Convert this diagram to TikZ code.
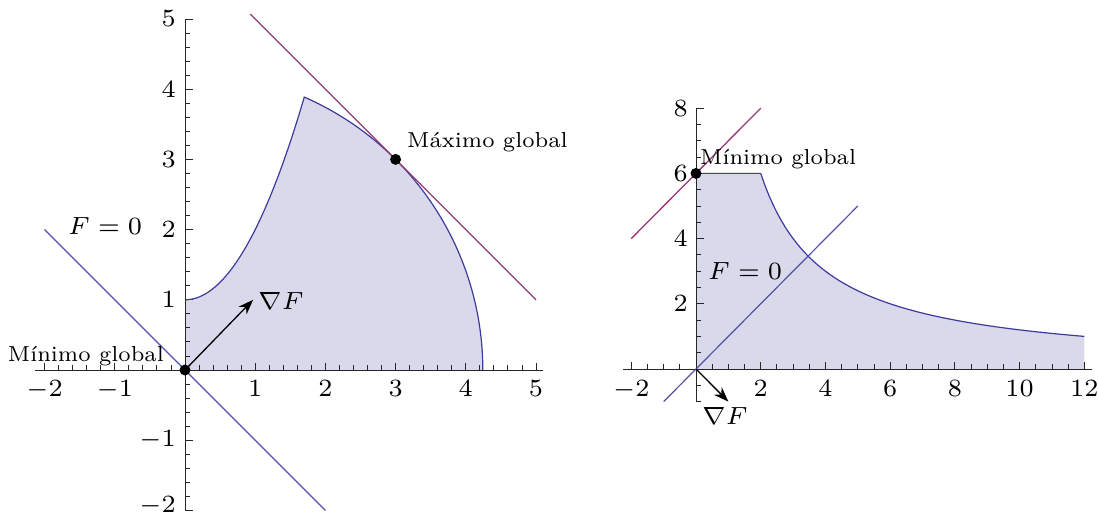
\documentclass[tikz,border=0pt]{standalone}
\usetikzlibrary{arrows.meta}
\definecolor{regfill}{HTML}{D9D9EB}
\definecolor{regline}{HTML}{3C3C9C}
\definecolor{fline}{HTML}{5050AA}
\definecolor{tline}{HTML}{993A6E}
\newcommand\ticklab[1]{\scalebox{3.55}{\fontsize{7}{8}\selectfont$#1$}}
\newcommand\txtlab[1]{\scalebox{3.1}{\fontsize{7}{8}\selectfont #1}}
\newcommand\mathlab[1]{\scalebox{3.55}{\fontsize{7}{8}\selectfont $#1$}}
\begin{document}
\begin{tikzpicture}[x=1pt,y=1pt,
  axisline/.style={line width=0.9pt,black!85},
  region/.style={fill=regfill},
  bound/.style={regline,line width=1.2pt},
  fzero/.style={fline,line width=1.2pt},
  tang/.style={tline,line width=1.3pt},
  dot/.style={circle,fill=black,inner sep=0pt,minimum size=11pt},
  grad/.style={line width=1.3pt,-{Stealth[length=15pt,width=11pt]}},
  lab/.style={inner sep=0pt}]
\useasboundingbox (0,0) rectangle (1099,518);
% ---------------- left plot ----------------
\begin{scope}[shift={(185pt,148pt)},x=70.2pt,y=70.2pt]
  \fill[region] (0,0) -- (0,1) -- plot[domain=0:1.699,samples=50] (\x,{1+\x*\x})
     -- plot[domain=66.39:0,samples=60] ({sqrt(18)*cos(\x)},{sqrt(18)*sin(\x)}) -- cycle;
  % axes
  \draw[axisline] (-2.14,0) -- (5.1,0);
  \draw[axisline] (0,-2) -- (0,5);
  \foreach \i in {-2,...,5} {\draw[axisline] (\i,0) -- ++(0,7pt);
                             \draw[axisline] (0,\i) -- ++(8pt,0);}
  \foreach \i in {-2,-1.8,...,4.9} {\draw[axisline] (\i,0) -- ++(0,4.5pt);
                                    \draw[axisline] (0,\i) -- ++(5pt,0);}
  \foreach \i in {-2,-1,1,2,3,4,5}
    \node[lab,anchor=base,yshift=-27pt] (xl\i) at (\i,0) {\ticklab{\i}};
  \foreach \i in {-1,1,2,3,4,5}
    \node[lab,anchor=east,xshift=-9pt] (yl\i) at (0,\i) {\ticklab{\i}};
  \node[lab,anchor=east,xshift=-9pt,yshift=4pt] (ylm2) at (0,-2) {\ticklab{-2}};
  % curves
  \draw[bound] plot[domain=0:1.699,samples=50] (\x,{1+\x*\x})
     -- plot[domain=66.39:0,samples=60] ({sqrt(18)*cos(\x)},{sqrt(18)*sin(\x)});
  \coordinate (ta) at (0.93,5.07);
  \coordinate (tb) at (5,1);
  \draw[tang] (ta) -- (tb);
  \coordinate (fa) at (-2,2);
  \coordinate (fb) at (2,-2);
  \draw[fzero] (fa) -- (fb);
  \node[dot] (min1) at (0,0) {};
  \node[dot] (max1) at (3,3) {};
  \coordinate (g1) at (0.97,1);
  \draw[grad] (min1.center) -- (g1);
\end{scope}
\node[lab,anchor=base east] (lmin1) at (164,156) {\txtlab{Mínimo global}};
\node[lab,anchor=base west] (lmax1) at (407,370) {\txtlab{Máximo global}};
\node[lab,anchor=base west] (lf1) at (68,283) {\mathlab{F=0}};
\node[lab,anchor=base west] (lg1) at (258,208) {\mathlab{\nabla F}};
% ---------------- right plot ----------------
\begin{scope}[shift={(696pt,149pt)},x=32.36pt,y=32.6pt]
  \fill[region] (0,0) -- (0,6) -- (2,6) -- plot[domain=2:12,samples=80] (\x,{12/\x}) -- (12,0) -- cycle;
  \draw[axisline] (-2.25,0) -- (12.25,0);
  \draw[axisline] (0,-1) -- (0,8);
  \foreach \i in {-2,0,...,12} \draw[axisline] (\i,0) -- ++(0,7pt);
  \foreach \i in {-2,-1.5,...,12} \draw[axisline] (\i,0) -- ++(0,4.5pt);
  \foreach \i in {0,2,...,8} \draw[axisline] (0,\i) -- ++(8pt,0);
  \foreach \i in {-1,-0.5,...,8} \draw[axisline] (0,\i) -- ++(5pt,0);
  \foreach \i in {-2,2,4,6,8,10,12}
    \node[lab,anchor=base,yshift=-28pt] (xr\i) at (\i,0) {\ticklab{\i}};
  \foreach \i in {2,4,6,8}
    \node[lab,anchor=east,xshift=-8pt] (yr\i) at (0,\i) {\ticklab{\i}};
  \draw[bound] (0,6) -- (2,6) -- plot[domain=2:12,samples=80] (\x,{12/\x});
  \coordinate (ua) at (-2,4);
  \coordinate (ub) at (2,8);
  \draw[tang] (ua) -- (ub);
  \coordinate (ha) at (-1,-1);
  \coordinate (hb) at (5,5);
  \draw[fzero] (ha) -- (hb);
  \node[dot] (min2) at (0,6) {};
  \node[inner sep=0pt] (o2) at (0,0) {};
  \coordinate (g2) at (1,-1);
  \draw[grad] (o2.center) -- (g2);
\end{scope}
\node[lab,anchor=base west] (lmin2) at (700,353) {\txtlab{Mínimo global}};
\node[lab,anchor=base west] (lf2) at (708,238) {\mathlab{F=0}};
\node[lab,anchor=base west] (lg2) at (702,93) {\mathlab{\nabla F}};
\end{tikzpicture}
\end{document}
